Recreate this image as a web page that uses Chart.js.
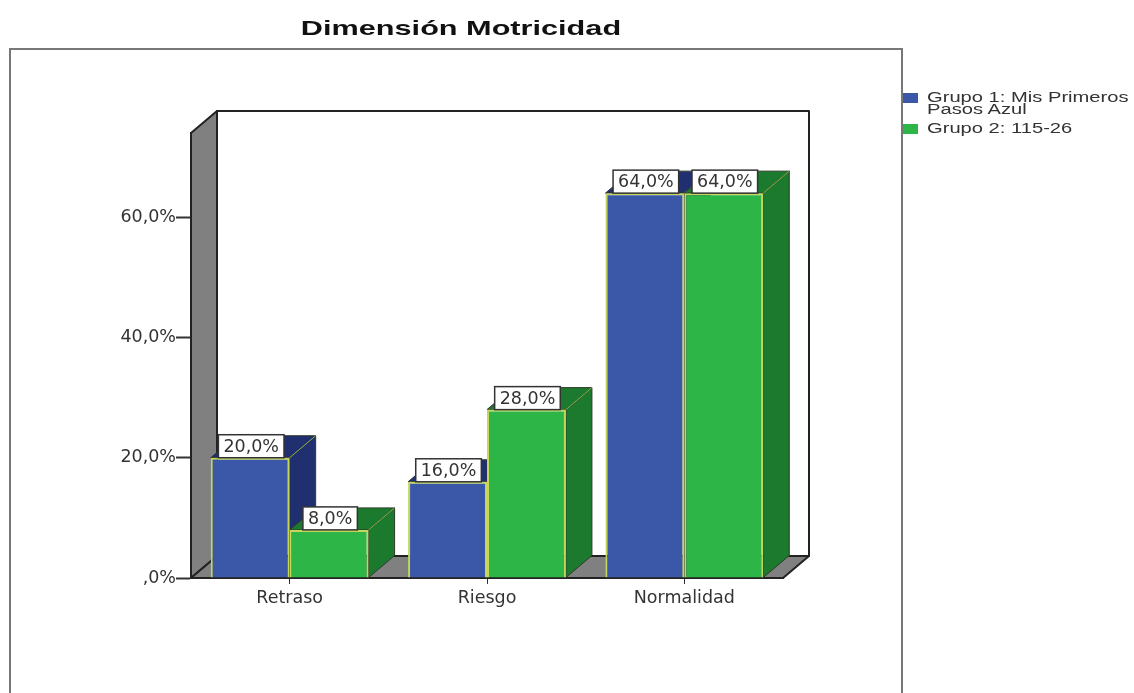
<!DOCTYPE html>
<html>
<head>
    <meta charset="utf-8">
    <title>Dimensión Motricidad</title>
    <script src="https://cdn.jsdelivr.net/npm/chart.js"></script>
    <style>
        html, body { margin: 0; background: #fff; overflow: hidden; }
        #wrap { position: relative; width: 1134px; height: 693px; font-family: "Liberation Sans"; filter: blur(0.6px); }
        #frame { position: absolute; left: 9px; top: 48px; width: 890px; height: 660px; border: 2px solid #777; }
        #title { position: absolute; left: 261px; width: 400px; top: 16px; text-align: center; font-weight: bold; font-size: 21px; line-height: 24px; color: #111; transform: scaleX(1.46); white-space: nowrap; }
        canvas { position: absolute; left: 0; top: 0; }
        .legend { position: absolute; left: 903px; color: #333; font-size: 15.5px; line-height: 12px; }
        .legend i { position: absolute; left: 0; top: 2px; width: 15px; height: 10px; }
        .legend span { display: block; margin-left: 24px; width: 160px; transform: scaleX(1.3); transform-origin: 0 0; }
    </style>
</head>
<body>
    <div id="wrap">
        <div id="frame"></div>
        <canvas id="chart" width="1134" height="693"></canvas>
        <div id="title"></div>
        <div id="legend"></div>
    </div>

    <script>
        const titleText = 'Dimensión Motricidad';
        const categories = ['Retraso', 'Riesgo', 'Normalidad'];
        const seriesNames = ['Grupo 1: Mis Primeros Pasos Azul', 'Grupo 2: 115-26'];
        const grupo1 = [20, 16, 64];
        const grupo2 = [8, 28, 64];
        const frontColors = ['#3b57a8', '#2db548'];
        const sideColors = ['#1f2f70', '#1b7a2e'];
        const legendTops = [91, 122];

        // profondeur du faux 3D
        const depthX = 26;
        const depthY = 22;

        const fmt = v => (v === 0 ? ',0%' : v.toFixed(1).replace('.', ',') + '%');

        document.getElementById('title').textContent = titleText;

        // legende a droite
        document.getElementById('legend').innerHTML = seriesNames.map((name, i) =>
            '<div class="legend" style="top:' + legendTops[i] + 'px"><i style="background:' + frontColors[i] + '"></i><span>' + name + '</span></div>'
        ).join('');

        function poly(ctx, pts, fill, stroke, lw) {
            ctx.beginPath();
            pts.forEach((p, i) => i ? ctx.lineTo(p[0], p[1]) : ctx.moveTo(p[0], p[1]));
            ctx.closePath();
            if (fill) { ctx.fillStyle = fill; ctx.fill(); }
            if (stroke) { ctx.strokeStyle = stroke; ctx.lineWidth = lw; ctx.stroke(); }
        }

        const box3d = {
            id: 'box3d',
            // murs et sol
            beforeDraw(chart) {
                const { ctx, chartArea: a } = chart;
                ctx.save();
                ctx.lineJoin = 'round';
                poly(ctx, [[a.left + depthX, a.top - depthY], [a.right + depthX, a.top - depthY], [a.right + depthX, a.bottom - depthY], [a.left + depthX, a.bottom - depthY]], '#fff', '#222', 2);
                poly(ctx, [[a.left, a.top], [a.left + depthX, a.top - depthY], [a.left + depthX, a.bottom - depthY], [a.left, a.bottom]], '#808080', '#222', 2);
                poly(ctx, [[a.left, a.bottom], [a.left + depthX, a.bottom - depthY], [a.right + depthX, a.bottom - depthY], [a.right, a.bottom]], '#808080', '#222', 2);
                ctx.restore();
            },
            // cotes et dessus des barres
            beforeDatasetsDraw(chart) {
                const ctx = chart.ctx;
                ctx.save();
                ctx.lineJoin = 'round';
                categories.forEach((c, i) => {
                    chart.data.datasets.forEach((ds, d) => {
                        const b = chart.getDatasetMeta(d).data[i];
                        const l = b.x - b.width / 2, r = b.x + b.width / 2;
                        poly(ctx, [[r, b.y], [r + depthX, b.y - depthY], [r + depthX, b.base - depthY], [r, b.base]], sideColors[d], '#2f3a2a', 1);
                        poly(ctx, [[l, b.y], [l + depthX, b.y - depthY], [r + depthX, b.y - depthY], [r, b.y]], sideColors[d], '#2f3a2a', 1);
                        ctx.strokeStyle = '#8fae4a';
                        ctx.lineWidth = 1;
                        ctx.beginPath();
                        ctx.moveTo(r, b.y);
                        ctx.lineTo(r + depthX, b.y - depthY);
                        ctx.stroke();
                    });
                });
                ctx.restore();
            },
            // etiquettes blanches
            afterDatasetsDraw(chart) {
                const ctx = chart.ctx;
                ctx.save();
                ctx.font = '17.5px "DejaVu Sans"';
                ctx.textAlign = 'center';
                ctx.textBaseline = 'middle';
                chart.data.datasets.forEach((ds, d) => {
                    chart.getDatasetMeta(d).data.forEach((b, i) => {
                        const txt = fmt(ds.data[i]);
                        const w = ctx.measureText(txt).width + 10;
                        const h = 23;
                        ctx.fillStyle = '#fff';
                        ctx.fillRect(b.x - w / 2 + 1, b.y - h, w, h);
                        ctx.strokeStyle = '#333';
                        ctx.lineWidth = 1.5;
                        ctx.strokeRect(b.x - w / 2 + 1, b.y - h, w, h);
                        ctx.fillStyle = '#333';
                        ctx.fillText(txt, b.x + 1, b.y - h / 2 + 1);
                    });
                });
                ctx.restore();
            }
        };

        new Chart(document.getElementById('chart'), {
            type: 'bar',
            plugins: [box3d],
            data: {
                labels: categories,
                datasets: [
                    { label: seriesNames[0], data: grupo1, backgroundColor: frontColors[0] },
                    { label: seriesNames[1], data: grupo2, backgroundColor: frontColors[1] }
                ]
            },
            options: {
                responsive: false,
                animation: false,
                categoryPercentage: 0.8,
                barPercentage: 1,
                borderColor: '#c5d65a',
                borderWidth: 2,
                layout: { padding: { left: 91, right: 351, top: 133, bottom: 85 } },
                plugins: {
                    legend: { display: false },
                    tooltip: { enabled: false }
                },
                scales: {
                    x: {
                        afterFit: s => { s.height = 30; },
                        grid: { drawOnChartArea: false, offset: false, tickLength: 6, tickColor: '#333' },
                        border: { color: '#222', width: 2 },
                        ticks: { color: '#333', padding: 4, font: { family: '"DejaVu Sans"', size: 17.5 } }
                    },
                    y: {
                        min: 0,
                        max: 74,
                        afterFit: s => { s.width = 100; },
                        grid: { drawOnChartArea: false, tickLength: 15, tickColor: '#333', tickWidth: 2 },
                        border: { color: '#222', width: 2 },
                        ticks: {
                            stepSize: 20,
                            includeBounds: false,
                            padding: 0,
                            color: '#333',
                            font: { family: '"DejaVu Sans"', size: 17.5 },
                            callback: v => fmt(v)
                        }
                    }
                }
            }
        });
    </script>
</body>
</html>
